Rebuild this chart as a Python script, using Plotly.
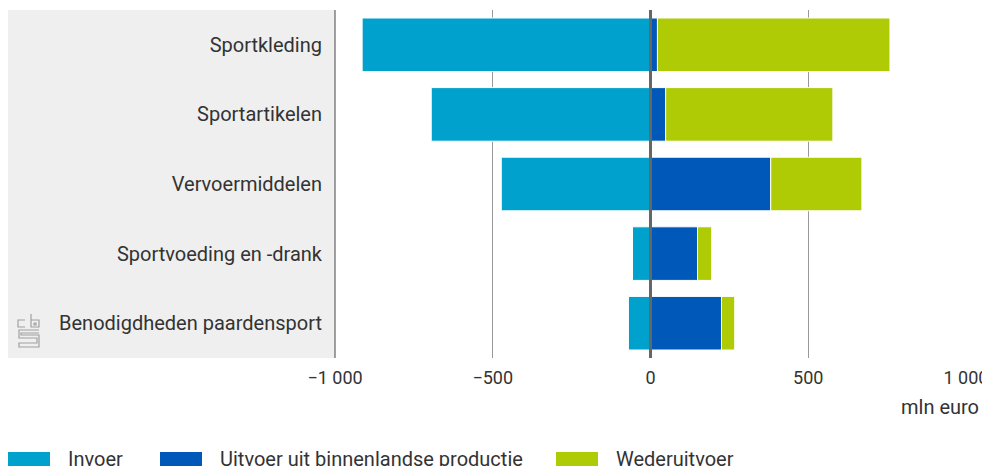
import plotly.graph_objects as go

categories = ["Sportkleding", "Sportartikelen", "Vervoermiddelen",
              "Sportvoeding en -drank", "Benodigdheden paardensport"]
invoer = [-914, -695, -473, -57, -70]
uitvoer = [22, 48, 381, 149, 225]
wederuitvoer = [737, 530, 289, 45, 42]

series = [("Invoer", invoer, "#00a1cd"),
          ("Uitvoer uit binnenlandse productie", uitvoer, "#0058b8"),
          ("Wederuitvoer", wederuitvoer, "#afcb05")]

tickvals = [-1000, -500, 0, 500, 1000]
ticktext = ["\u22121 000", "\u2212500", "0", "500", "1 000"]

OFF = 8  # page body margin
W, H = 990 - OFF, 466 - OFF
L, R, T, B = 335 - OFF, 990 - 966, 10 - OFF, 466 - 358
pw = W - L - R
ph = H - T - B

def px(x):
    return (x - OFF - L) / pw
def py(y):
    return (H - B - (y - OFF)) / ph

fig = go.Figure()
for name, vals, col in series:
    fig.add_trace(go.Bar(
        y=categories, x=vals, name=name, orientation="h",
        marker=dict(color=col, line=dict(color="white", width=1)),
        width=0.77, showlegend=False,
    ))

font = "Roboto, sans-serif"

shapes = [
    dict(type="rect", xref="paper", yref="paper",
         x0=px(8), x1=0, y0=0, y1=1,
         fillcolor="#efefef", line=dict(width=0), layer="below"),
    dict(type="line", xref="x", yref="paper", x0=0, x1=0, y0=0, y1=1,
         line=dict(color="#666666", width=3), layer="above"),
    dict(type="line", xref="paper", yref="paper", x0=0, x1=0, y0=0, y1=1,
         line=dict(color="#444444", width=1), layer="above"),
]

legend_items = [(8, 66), (160, 218), (556, 614)]
annotations = []
for (sx, tx), (name, vals, col) in zip(legend_items, series):
    shapes.append(dict(type="rect", xref="paper", yref="paper",
                       x0=px(sx), x1=px(sx + 42),
                       y0=py(470), y1=py(452),
                       fillcolor=col, line=dict(width=0)))
    annotations.append(dict(xref="paper", yref="paper",
                            x=px(tx), y=py(459),
                            text=name, showarrow=False, xanchor="left",
                            yanchor="middle",
                            font=dict(family=font, size=20, color="#333333")))

annotations.append(dict(xref="paper", yref="paper", x=px(981),
                        y=py(407), text="mln euro", showarrow=False,
                        xanchor="right", yanchor="middle",
                        font=dict(family=font, size=20, color="#333333")))

# cbs logo approximation (gray outline strokes)
logo_col = "#a0a0a0"
def path(points):
    return "M " + " L ".join(f"{px(x):.5f},{py(y):.5f}" for x, y in points)
logo_paths = [
    [(25, 320), (18, 320), (18, 327), (25, 327)],             # c
    [(31, 314), (31, 327), (39, 327), (39, 320), (31, 320)],   # b
    [(34, 323), (36, 323), (36, 325), (34, 325), (34, 323)],   # b inner
    [(39, 330), (19, 330), (19, 338), (37, 338), (37, 343),
     (19, 343), (19, 347), (39, 347), (39, 335), (21, 335),
     (21, 333), (39, 333)],                                    # s
]
for pts in logo_paths:
    shapes.append(dict(type="path", xref="paper", yref="paper",
                       path=path(pts), line=dict(color=logo_col, width=1.2)))

fig.update_layout(
    width=W, height=H,
    margin=dict(l=L, r=R, t=T, b=B, autoexpand=False),
    barmode="relative",
    plot_bgcolor="white", paper_bgcolor="white",
    font=dict(family=font, size=19, color="#333333"),
    xaxis=dict(range=[-1000, 1000], tickvals=tickvals, ticktext=ticktext,
               showgrid=True, gridcolor="#999999", gridwidth=1,
               zeroline=False, showline=False, ticks="outside", ticklen=3,
               tickcolor="rgba(0,0,0,0)", automargin=False,
               tickfont=dict(size=18, color="#333333"), fixedrange=True),
    yaxis=dict(autorange="reversed", showgrid=False, zeroline=False,
               ticks="outside", ticklen=8, tickcolor="rgba(0,0,0,0)",
               automargin=False,
               tickfont=dict(size=20, color="#333333"), showline=False),
    shapes=shapes, annotations=annotations,
)

fig.write_html("out.html",
               post_script="document.body.style.overflow='hidden';")
